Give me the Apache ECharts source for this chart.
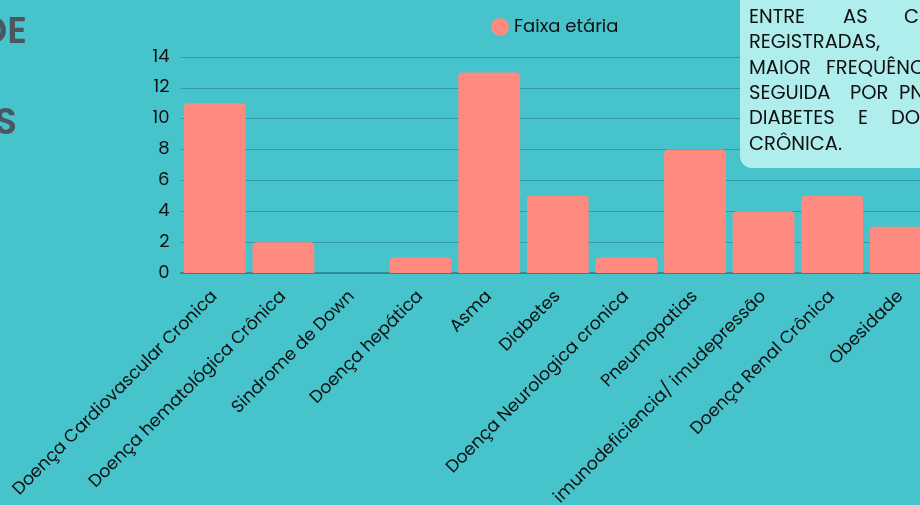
<!DOCTYPE html>
<html>
<head>
<meta charset="utf-8">
<style>
  html, body { margin: 0; padding: 0; background: #47c3cc; }
  #chart { width: 920px; height: 505px; }
</style>
<script src="https://cdn.jsdelivr.net/npm/echarts@6/dist/echarts.min.js"></script>
</head>
<body>
<div id="chart"></div>
<script>
// comorbidades registradas
const categorias = [
  'Doença Cardiovascular Cronica', 'Doença hematológica Crônica', 'Sindrome de Down',
  'Doença hepática', 'Asma', 'Diabetes', 'Doença Neurologica cronica', 'Pneumopatias',
  'imunodeficiencia/ imudepressão', 'Doença Renal Crônica', 'Obesidade'
];
const faixaEtaria = [11, 2, 0, 1, 13, 5, 1, 8, 4, 5, 3];
const yTicks = [0, 2, 4, 6, 8, 10, 12, 14];

// texto do quadro (linhas justificadas, cortadas pela borda)
const quadroLinhas = [
  [['ENTRE', 749], ['AS', 843], ['COMORBIDADES', 904]],
  [['REGISTRADAS,', 749]],
  [['MAIOR', 749], ['FREQUÊNCIA,', 826]],
  [['SEGUIDA', 749], ['POR', 850], ['PNEUMOPATIAS,', 899]],
  [['DIABETES', 749], ['E', 858], ['DOENÇA', 891]],
  [['CRÔNICA.', 749]]
];

const FONT = 'Poppins, "Open Sans", sans-serif';
const myChart = echarts.init(document.getElementById('chart'));

const quadro = [{
  type: 'rect',
  shape: { x: 740, y: -20, width: 220, height: 188, r: 12 },
  style: { fill: '#b0eeee' },
  z: 10
}];
quadroLinhas.forEach((linha, i) => {
  linha.forEach(([palavra, x]) => {
    quadro.push({
      type: 'text',
      x: x, y: 18 + i * 25.4,
      style: {
        text: palavra, fill: '#111', font: '19.5px ' + FONT,
        textVerticalAlign: 'middle'
      },
      z: 11
    });
  });
});

const option = {
  backgroundColor: '#47c3cc',
  textStyle: { fontFamily: FONT },
  legend: {
    left: 486, top: 13,
    icon: 'circle', itemWidth: 18, itemHeight: 18, itemGap: 8,
    textStyle: { fontSize: 18, color: '#111', fontFamily: FONT },
    data: ['Faixa etária']
  },
  grid: { left: 180.5, top: 57, width: 754.6, height: 216, outerBoundsMode: 'none' },
  xAxis: {
    type: 'category',
    data: categorias,
    axisTick: { show: false },
    axisLine: { lineStyle: { color: '#2a7d86', width: 1.5 } },
    axisLabel: {
      interval: 0, rotate: 45, margin: 21,
      fontSize: 17.5, color: '#111', fontFamily: FONT
    }
  },
  yAxis: {
    type: 'value',
    min: yTicks[0], max: yTicks[yTicks.length - 1], interval: 2,
    axisLine: { show: false },
    axisTick: { show: false },
    splitLine: { lineStyle: { color: '#349aa3', width: 1 } },
    axisLabel: { fontSize: 18, color: '#111', margin: 11, fontFamily: FONT }
  },
  series: [{
    name: 'Faixa etária',
    type: 'bar',
    data: faixaEtaria,
    barCategoryGap: '10%',
    itemStyle: { color: '#ff8a80', borderRadius: [4, 4, 0, 0] }
  }],
  graphic: [
    {
      type: 'text', x: 27, y: 34,
      style: { text: 'DE', fill: '#4b5660', font: '600 37px ' + FONT, textAlign: 'right', textVerticalAlign: 'middle' }
    },
    {
      type: 'text', x: 17, y: 125,
      style: { text: 'S', fill: '#4b5660', font: '600 37px ' + FONT, textAlign: 'right', textVerticalAlign: 'middle' }
    }
  ].concat(quadro)
};

myChart.setOption(option);
</script>
</body>
</html>
